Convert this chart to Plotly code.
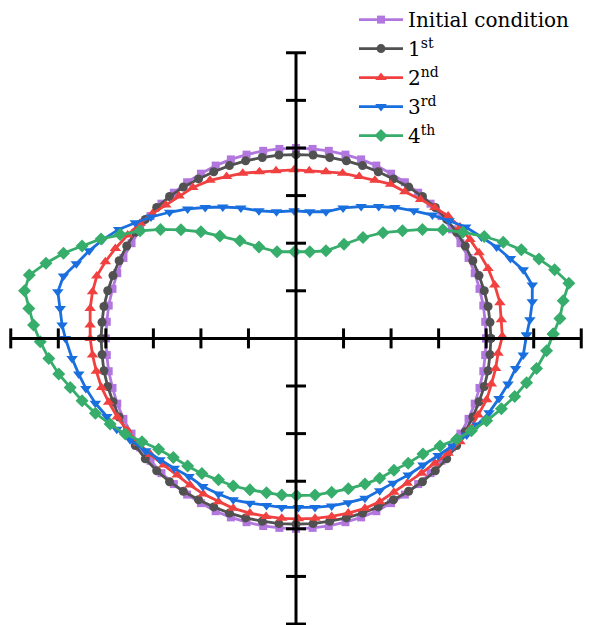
import plotly.graph_objects as go

# Marker coordinates of the interface at each stage (same 72 material points)
init_x = [4.00, 3.98, 3.94, 3.86, 3.76, 3.63, 3.46, 3.28, 3.06, 2.83, 2.57, 2.29, 2.00, 1.69, 1.37, 1.04, 0.69, 0.35,
          0.00, -0.35, -0.69, -1.04, -1.37, -1.69, -2.00, -2.29, -2.57, -2.83, -3.06, -3.28, -3.46, -3.63, -3.76, -3.86, -3.94, -3.98,
          -4.00, -3.98, -3.94, -3.86, -3.76, -3.63, -3.46, -3.28, -3.06, -2.83, -2.57, -2.29, -2.00, -1.69, -1.37, -1.04, -0.69, -0.35,
          0.00, 0.35, 0.69, 1.04, 1.37, 1.69, 2.00, 2.29, 2.57, 2.83, 3.06, 3.28, 3.46, 3.63, 3.76, 3.86, 3.94, 3.98]
init_y = [0.00, 0.35, 0.69, 1.04, 1.37, 1.69, 2.00, 2.29, 2.57, 2.83, 3.06, 3.28, 3.46, 3.63, 3.76, 3.86, 3.94, 3.98,
          4.00, 3.98, 3.94, 3.86, 3.76, 3.63, 3.46, 3.28, 3.06, 2.83, 2.57, 2.29, 2.00, 1.69, 1.37, 1.04, 0.69, 0.35,
          0.00, -0.35, -0.69, -1.04, -1.37, -1.69, -2.00, -2.29, -2.57, -2.83, -3.06, -3.28, -3.46, -3.63, -3.76, -3.86, -3.94, -3.98,
          -4.00, -3.98, -3.94, -3.86, -3.76, -3.63, -3.46, -3.28, -3.06, -2.83, -2.57, -2.29, -2.00, -1.69, -1.37, -1.04, -0.69, -0.35]

first_x = [4.10, 4.08, 4.04, 3.96, 3.85, 3.72, 3.56, 3.38, 3.17, 2.93, 2.66, 2.37, 2.05, 1.73, 1.40, 1.06, 0.71, 0.36,
           0.00, -0.36, -0.71, -1.06, -1.40, -1.73, -2.05, -2.37, -2.66, -2.93, -3.17, -3.38, -3.56, -3.72, -3.85, -3.96, -4.04, -4.08,
           -4.10, -4.08, -4.04, -3.96, -3.85, -3.72, -3.56, -3.38, -3.17, -2.93, -2.66, -2.37, -2.05, -1.73, -1.40, -1.06, -0.71, -0.36,
           0.00, 0.36, 0.71, 1.06, 1.40, 1.73, 2.05, 2.37, 2.66, 2.93, 3.17, 3.38, 3.56, 3.72, 3.85, 3.96, 4.04, 4.08]
first_y = [0.00, 0.34, 0.67, 1.00, 1.32, 1.63, 1.94, 2.23, 2.50, 2.75, 2.98, 3.18, 3.35, 3.50, 3.63, 3.73, 3.80, 3.85,
           3.86, 3.85, 3.80, 3.73, 3.63, 3.50, 3.35, 3.18, 2.98, 2.75, 2.50, 2.23, 1.94, 1.63, 1.32, 1.00, 0.67, 0.34,
           0.00, -0.34, -0.68, -1.01, -1.33, -1.65, -1.96, -2.25, -2.53, -2.78, -3.01, -3.21, -3.39, -3.54, -3.67, -3.77, -3.84, -3.89,
           -3.90, -3.89, -3.84, -3.77, -3.67, -3.54, -3.39, -3.21, -3.01, -2.78, -2.53, -2.25, -1.96, -1.65, -1.33, -1.01, -0.68, -0.34]

second_x = [4.34, 4.32, 4.29, 4.18, 4.04, 3.85, 3.66, 3.45, 3.20, 2.92, 2.62, 2.29, 1.99, 1.66, 1.33, 0.98, 0.63, 0.28,
            -0.04, -0.42, -0.77, -1.12, -1.46, -1.81, -2.17, -2.46, -2.74, -3.02, -3.28, -3.54, -3.80, -4.01, -4.19, -4.28, -4.33, -4.33,
            -4.33, -4.28, -4.20, -4.09, -3.94, -3.76, -3.55, -3.32, -3.06, -2.78, -2.50, -2.23, -1.95, -1.63, -1.32, -0.97, -0.63, -0.30,
            0.05, 0.40, 0.75, 1.10, 1.45, 1.76, 2.06, 2.34, 2.64, 2.92, 3.20, 3.45, 3.66, 3.83, 4.01, 4.11, 4.20, 4.25]
second_y = [0.04, 0.39, 0.75, 1.12, 1.47, 1.80, 2.08, 2.34, 2.57, 2.75, 2.92, 3.08, 3.24, 3.32, 3.40, 3.47, 3.50, 3.52,
            3.54, 3.52, 3.50, 3.47, 3.40, 3.32, 3.17, 2.99, 2.80, 2.62, 2.42, 2.17, 1.89, 1.61, 1.31, 0.98, 0.63, 0.28,
            0.00, -0.35, -0.69, -1.03, -1.34, -1.65, -1.93, -2.20, -2.44, -2.66, -2.87, -3.08, -3.27, -3.43, -3.57, -3.67, -3.74, -3.78,
            -3.79, -3.78, -3.74, -3.67, -3.57, -3.43, -3.23, -3.04, -2.83, -2.62, -2.41, -2.17, -1.91, -1.61, -1.29, -0.96, -0.63, -0.31]

third_x = [4.85, 4.92, 4.97, 4.97, 4.78, 4.51, 4.22, 3.90, 3.57, 3.22, 2.87, 2.48, 2.08, 1.74, 1.37, 0.99, 0.63, 0.29,
           -0.04, -0.41, -0.78, -1.16, -1.54, -1.91, -2.28, -2.66, -3.05, -3.38, -3.73, -4.07, -4.35, -4.62, -4.89, -5.01, -4.96, -4.92,
           -4.85, -4.71, -4.57, -4.42, -4.22, -3.98, -3.77, -3.49, -3.16, -2.86, -2.56, -2.25, -1.96, -1.63, -1.32, -0.97, -0.62, -0.30,
           0.05, 0.40, 0.75, 1.10, 1.45, 1.76, 2.04, 2.36, 2.67, 2.99, 3.29, 3.59, 3.81, 4.06, 4.27, 4.46, 4.62, 4.78]
third_y = [0.07, 0.39, 0.77, 1.12, 1.44, 1.68, 1.92, 2.13, 2.34, 2.47, 2.59, 2.68, 2.75, 2.77, 2.77, 2.74, 2.66, 2.66,
           2.68, 2.66, 2.68, 2.74, 2.76, 2.75, 2.72, 2.65, 2.55, 2.43, 2.29, 2.07, 1.84, 1.57, 1.31, 0.98, 0.63, 0.28,
           0.00, -0.42, -0.75, -1.05, -1.36, -1.64, -1.91, -2.13, -2.36, -2.55, -2.73, -2.90, -3.11, -3.27, -3.39, -3.46, -3.51, -3.55,
           -3.55, -3.55, -3.52, -3.45, -3.36, -3.20, -3.04, -2.87, -2.66, -2.46, -2.26, -2.03, -1.82, -1.56, -1.26, -0.96, -0.63, -0.35]

fourth_x = [5.41, 5.55, 5.62, 5.74, 5.44, 5.11, 4.74, 4.36, 3.96, 3.51, 3.09, 2.66, 2.24, 1.83, 1.41, 1.01, 0.63, 0.29,
            -0.03, -0.40, -0.78, -1.18, -1.60, -2.00, -2.42, -2.85, -3.28, -3.70, -4.10, -4.50, -4.89, -5.26, -5.61, -5.71, -5.62, -5.52,
            -5.38, -5.20, -4.99, -4.75, -4.50, -4.22, -3.91, -3.59, -3.24, -2.89, -2.58, -2.28, -1.98, -1.63, -1.32, -0.97, -0.62, -0.30,
            0.01, 0.40, 0.75, 1.10, 1.45, 1.76, 2.06, 2.36, 2.67, 3.03, 3.38, 3.69, 4.01, 4.32, 4.60, 4.85, 5.06, 5.27]
fourth_y = [0.09, 0.42, 0.79, 1.16, 1.44, 1.67, 1.86, 2.02, 2.14, 2.23, 2.28, 2.29, 2.26, 2.22, 2.12, 1.98, 1.84, 1.82,
            1.82, 1.82, 1.92, 2.05, 2.15, 2.24, 2.28, 2.29, 2.26, 2.18, 2.09, 1.94, 1.79, 1.58, 1.33, 1.00, 0.63, 0.28,
            -0.07, -0.42, -0.75, -1.03, -1.31, -1.57, -1.80, -2.01, -2.17, -2.33, -2.50, -2.68, -2.84, -2.97, -3.10, -3.18, -3.24, -3.29,
            -3.30, -3.29, -3.23, -3.16, -3.06, -2.94, -2.77, -2.62, -2.43, -2.26, -2.12, -1.94, -1.73, -1.48, -1.22, -0.93, -0.63, -0.26]

series = [
    ("Initial condition", init_x, init_y, "#b177de", "square", 8),
    ("1<sup>st</sup>", first_x, first_y, "#515151", "circle", 9),
    ("2<sup>nd</sup>", second_x, second_y, "#f14040", "triangle-up", 10),
    ("3<sup>rd</sup>", third_x, third_y, "#1a6fdf", "triangle-down", 10),
    ("4<sup>th</sup>", fourth_x, fourth_y, "#37ad6b", "diamond", 10),
]

tick_positions = [-6, -5, -4, -3, -2, -1, 1, 2, 3, 4, 5, 6]
axis_extent = 6
tick_half = 0.21

fig = go.Figure()
for name, xs, ys, color, symbol, size in series:
    fig.add_trace(go.Scatter(
        x=xs + xs[:1], y=ys + ys[:1], mode="lines+markers", name=name,
        line=dict(color=color, width=2.8),
        marker=dict(symbol=symbol, size=size, color=color),
    ))

shapes = [
    dict(type="line", x0=-axis_extent, x1=axis_extent, y0=0, y1=0),
    dict(type="line", x0=0, x1=0, y0=-axis_extent, y1=axis_extent),
]
for t in tick_positions:
    shapes.append(dict(type="line", x0=t, x1=t, y0=-tick_half, y1=tick_half))
    shapes.append(dict(type="line", x0=-tick_half, x1=tick_half, y0=t, y1=t))
for s in shapes:
    s.update(xref="x", yref="y", line=dict(color="black", width=3), layer="above")

fig.update_layout(
    width=590, height=625,
    margin=dict(l=5.6, r=3.6, t=48, b=0, autoexpand=False),
    paper_bgcolor="white", plot_bgcolor="white",
    xaxis=dict(range=[-6.1, 6.1], visible=False),
    yaxis=dict(range=[-6.02, 6.1], visible=False),
    shapes=shapes,
    showlegend=True,
    legend=dict(x=0.6, y=1.083, xanchor="left", yanchor="top",
                bgcolor="rgba(0,0,0,0)", font=dict(family="DejaVu Serif", size=20, color="black"),
                itemwidth=44, tracegroupgap=0),
)

fig.write_html("out.html")
